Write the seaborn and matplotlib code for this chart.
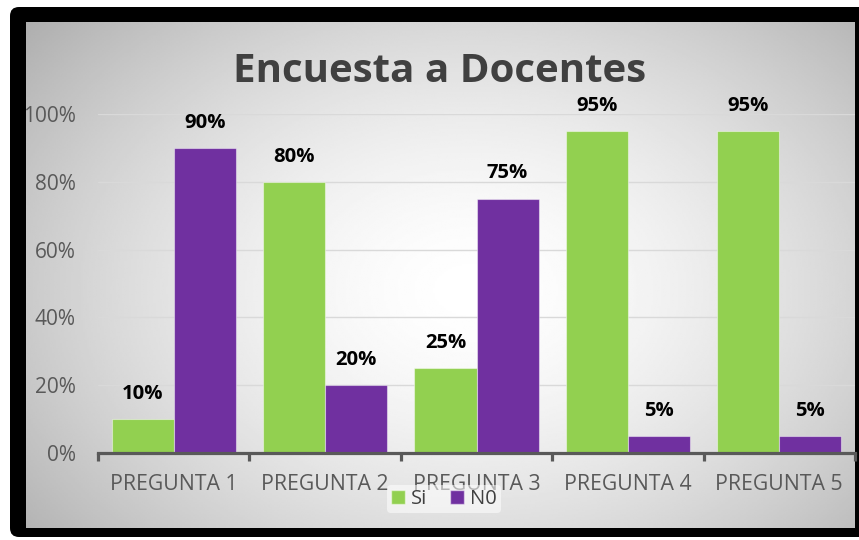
import numpy as np
import pandas as pd
import matplotlib
matplotlib.use("Agg")
import matplotlib.pyplot as plt
import seaborn as sns
from matplotlib.patches import FancyBboxPatch, Patch
from matplotlib.ticker import FuncFormatter, FixedLocator

preguntas = ["PREGUNTA 1", "PREGUNTA 2", "PREGUNTA 3", "PREGUNTA 4", "PREGUNTA 5"]
si_vals = [0.10, 0.80, 0.25, 0.95, 0.95]
no_vals = [0.90, 0.20, 0.75, 0.05, 0.05]
series = ["Si", "N0"]
colors = {"Si": "#92D050", "N0": "#7030A0"}
title = "Encuesta a Docentes"

df = pd.DataFrame({
    "pregunta": preguntas * 2,
    "valor": si_vals + no_vals,
    "serie": ["Si"] * len(preguntas) + ["N0"] * len(preguntas),
})

sns.set_theme(style="white")
FONT = ["Open Sans", "DejaVu Sans"]
plt.rcParams["font.family"] = FONT

W, H = 859, 540
fig = plt.figure(figsize=(W / 100, H / 100), dpi=100)
fig.patch.set_facecolor("white")

def fx(px):
    return px / W

def fy(py):
    return 1 - py / H

# black frame
frame_ax = fig.add_axes([0, 0, 1, 1], zorder=0)
frame_ax.set_xlim(0, W)
frame_ax.set_ylim(H, 0)
frame_ax.axis("off")
frame_ax.add_patch(FancyBboxPatch((10, 7), 880, 530, boxstyle="round,pad=0,rounding_size=9",
                                  facecolor="black", edgecolor="none"))
# gradient background
gx0, gx1, gy0, gy1 = 26, 855, 22, 528
xx, yy = np.meshgrid(np.linspace(gx0, gx1, 400), np.linspace(gy0, gy1, 300))
cx, cy = 470, 290
r = np.sqrt(((xx - cx) / 500) ** 2 + ((yy - cy) / 360) ** 2)
val = 1 - 0.25 * np.clip(r, 0, 1.2) ** 1.6
frame_ax.imshow(val, cmap="gray", vmin=0, vmax=1, extent=[gx0, gx1, gy1, gy0],
                aspect="auto", interpolation="bilinear", zorder=1)

# main axes
ax_left, ax_right, ax_top, ax_bottom = 98, 855, 114, 453
ax = fig.add_axes([fx(ax_left), fy(ax_bottom), fx(ax_right - ax_left), (ax_bottom - ax_top) / H], zorder=2)
ax.patch.set_alpha(0)

sns.barplot(data=df, x="pregunta", y="valor", hue="serie", order=preguntas, hue_order=series,
            palette=colors, width=0.82, ax=ax, legend=False, saturation=1,
            edgecolor=(1, 1, 1, 0.45), linewidth=0.8, zorder=3)

cat_px = 153.0
ax.set_xlim(-0.5, -0.5 + (ax_right - ax_left) / cat_px)
ax.set_ylim(0, 1.0)

ax.yaxis.set_major_locator(FixedLocator([0, 0.2, 0.4, 0.6, 0.8, 1.0]))
ax.yaxis.set_major_formatter(FuncFormatter(lambda v, p: f"{v*100:.0f}%"))
ax.grid(axis="y", color="#d9d9d9", linewidth=1.0, zorder=1)
ax.set_axisbelow(True)
for s in ["top", "right", "left"]:
    ax.spines[s].set_visible(False)
ax.spines["bottom"].set_color("#595959")
ax.spines["bottom"].set_linewidth(2.3)
ax.spines["bottom"].set_zorder(5)

ax.set_xticks(range(len(preguntas)))
ax.set_xticklabels(preguntas)
ax.set_xticks(np.arange(-0.5, len(preguntas) + 0.5, 1), minor=True)
ax.tick_params(axis="x", which="major", bottom=True, length=0, pad=15, labelsize=15.3,
               labelcolor="#595959")
ax.tick_params(axis="x", which="minor", bottom=True, length=6, width=2.3, color="#595959",
               direction="out")
ax.tick_params(axis="y", left=False, length=0, pad=16, labelsize=15, labelcolor="#595959")
ax.set_xlabel("")
ax.set_ylabel("")

# value labels
for cont in ax.containers:
    for bar in cont:
        h = bar.get_height()
        ax.annotate(f"{h*100:.0f}%", (bar.get_x() + bar.get_width() / 2, h),
                    xytext=(0, 11), textcoords="offset points", ha="center", va="bottom",
                    fontsize=14.6, fontweight="bold", color="black", clip_on=False, zorder=6)

# title
fig.text(fx(440), fy(72), title, ha="center", va="center", fontsize=29, fontweight="bold",
         color="#404040", zorder=5)

# legend
handles = [Patch(facecolor=colors[s], edgecolor=(1, 1, 1, 0.5), label=s) for s in series]
leg = fig.legend(handles=handles, loc="center", bbox_to_anchor=(fx(444), fy(499)), ncol=2,
                 frameon=True, fontsize=14.5, handlelength=0.7, handleheight=0.7,
                 handletextpad=0.3, columnspacing=1.1, borderpad=0.2)
leg.get_frame().set_facecolor("white")
leg.get_frame().set_alpha(0.55)
leg.get_frame().set_edgecolor("none")
leg.set_zorder(7)
for t in leg.get_texts():
    t.set_color("#404040")

fig.savefig("out.png", dpi=100)
